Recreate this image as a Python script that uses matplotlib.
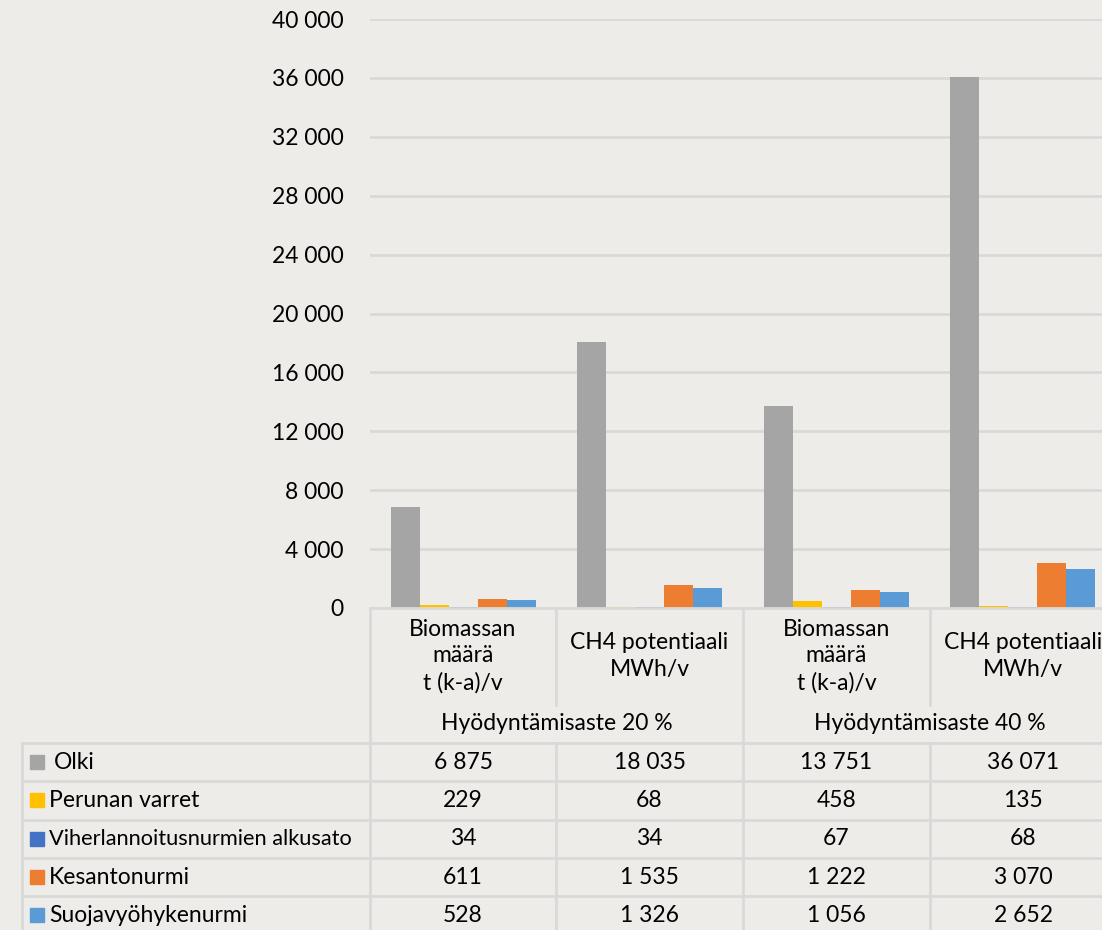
import matplotlib.pyplot as plt
from matplotlib.patches import Rectangle
from matplotlib.lines import Line2D

plt.rcParams["font.family"] = ["Lato", "DejaVu Sans"]

# categories and series
categories = [
    "Biomassan\nmäärä\nt (k-a)/v",
    "CH4 potentiaali\nMWh/v",
    "Biomassan\nmäärä\nt (k-a)/v",
    "CH4 potentiaali\nMWh/v",
]
groups = ["Hyödyntämisaste 20 %", "Hyödyntämisaste 40 %"]
series_names = [
    "Olki",
    "Perunan varret",
    "Viherlannoitusnurmien alkusato",
    "Kesantonurmi",
    "Suojavyöhykenurmi",
]
olki = [6875, 18035, 13751, 36071]
perunan_varret = [229, 68, 458, 135]
viherlannoitus = [34, 34, 67, 68]
kesantonurmi = [611, 1535, 1222, 3070]
suojavyohyke = [528, 1326, 1056, 2652]
colors = ["#A5A5A5", "#FFC000", "#4472C4", "#ED7D31", "#5B9BD5"]
y_ticks = list(range(0, 40001, 4000))

series = [olki, perunan_varret, viherlannoitus, kesantonurmi, suojavyohyke]

BG = "#EEECE9"
GRID = "#D9D9D9"
FS = 16.5
W, H = 1102, 930


def fmt(v):
    return f"{v:,}".replace(",", " ")


fig = plt.figure(figsize=(W / 100, H / 100), dpi=100, facecolor=BG)

# chart area in pixel terms: x 370..1116, zero at y=608, top at y=19
x0, x1, y_zero, y_top = 370, 1116, 608, 19
ax = fig.add_axes([x0 / W, (H - y_zero) / H, (x1 - x0) / W, (y_zero - y_top) / H])
ax.set_facecolor(BG)
ax.patch.set_alpha(0)

bar_w = 0.1555
for i, (vals, col) in enumerate(zip(series, colors)):
    xs = [g + 0.111 + bar_w * (i + 0.5) for g in range(len(categories))]
    ax.bar(xs, vals, width=bar_w, color=col, zorder=3)

ax.set_xlim(0, len(categories))
ax.set_ylim(0, 40000)
ax.set_yticks(y_ticks)
ax.set_yticklabels([fmt(t) for t in y_ticks], fontsize=FS)
ax.tick_params(axis="y", length=0, pad=19)
ax.tick_params(axis="x", length=0, labelbottom=False)
ax.yaxis.grid(True, color=GRID, linewidth=2, zorder=0)
for s in ax.spines.values():
    s.set_visible(False)

# data table below the chart, drawn in pixel coordinates
tab = fig.add_axes([0, 0, 1, 1])
tab.set_xlim(0, W)
tab.set_ylim(H, 0)
tab.axis("off")
tab.patch.set_alpha(0)

col_x = [370, 556, 743, 930, 1116]
head_top, head_split, rows_top = 608, 705, 743
row_h = 38.3
n_rows = len(series_names)
bottom = rows_top + row_h * n_rows


def line(xa, ya, xb, yb):
    tab.add_line(Line2D([xa, xb], [ya, yb], color=GRID, linewidth=2, zorder=1))


line(col_x[0], head_top, col_x[-1], head_top)
for x in (col_x[0], col_x[2]):
    line(x, head_top, x, bottom)
for x in (col_x[1], col_x[3]):
    line(x, head_top, x, head_split)
    line(x, rows_top, x, bottom)
line(22, rows_top, 22, bottom)
for r in range(n_rows + 1):
    y = rows_top + r * row_h
    line(22, y, col_x[-1], y)

for c, label in enumerate(categories):
    cx = (col_x[c] + col_x[c + 1]) / 2
    tab.text(cx, 656, label, ha="center", va="center", fontsize=FS,
             linespacing=1.32)
for g, label in enumerate(groups):
    cx = (col_x[2 * g] + col_x[2 * g + 2]) / 2
    tab.text(cx, 723, label, ha="center", va="center", fontsize=FS)

for r, (name, vals, col) in enumerate(zip(series_names, series, colors)):
    cy = rows_top + (r + 0.5) * row_h
    tab.add_patch(Rectangle((30, cy - 7), 14, 14, color=col, zorder=2))
    tx = 54 if r == 0 else 49
    # the long legend label is condensed a little to stay inside its cell
    fs = FS - 0.8 if len(name) > 25 else FS
    tab.text(tx, cy, name, ha="left", va="center", fontsize=fs)
    for c, v in enumerate(vals):
        cx = (col_x[c] + col_x[c + 1]) / 2
        tab.text(cx, cy, fmt(v), ha="center", va="center", fontsize=FS)

fig.savefig("out.png", dpi=100, facecolor=BG)
